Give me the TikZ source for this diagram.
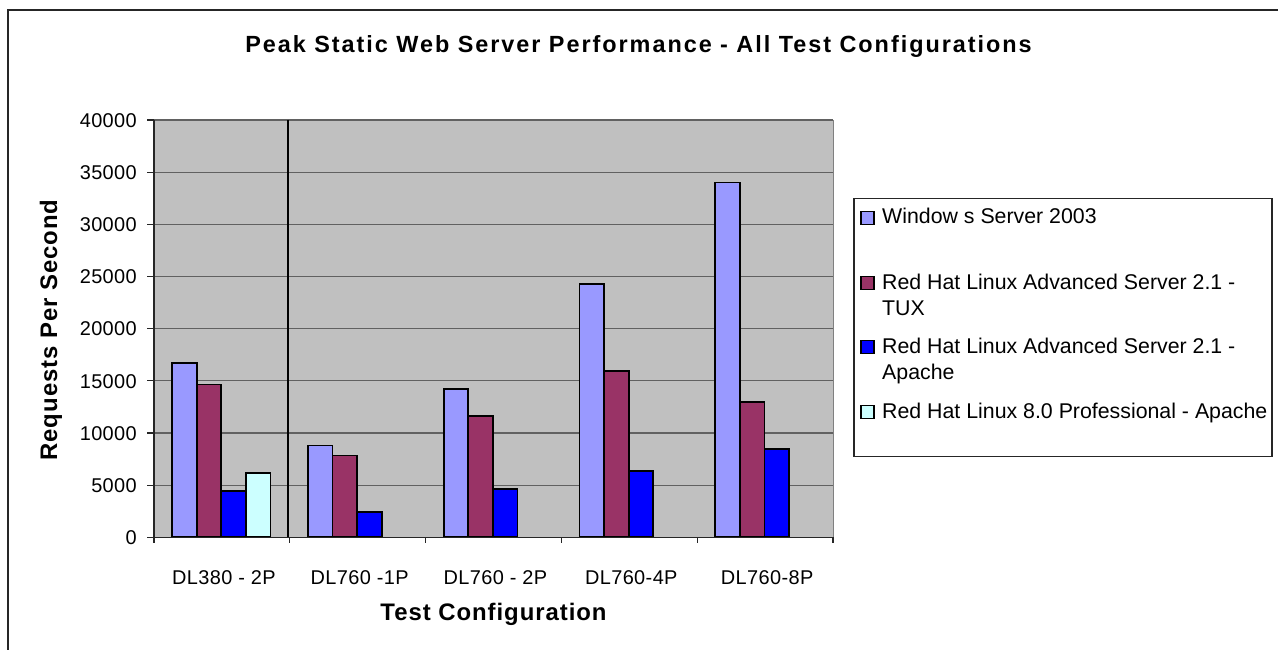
\documentclass[tikz,border=0pt]{standalone}
\usepackage{fontspec}
\setmainfont{Liberation Sans}
\newfontfamily\tickfont{Liberation Sans}[LetterSpace=2]
\newfontfamily\titlefont{Liberation Sans}[LetterSpace=8.4]
\newfontfamily\axisfont{Liberation Sans}[LetterSpace=4]
\definecolor{winblue}{HTML}{9999FF}
\definecolor{tuxred}{HTML}{993366}
\definecolor{apblue}{HTML}{0000FF}
\definecolor{rhcyan}{HTML}{CCFFFF}
\definecolor{plotgray}{HTML}{C0C0C0}

\begin{document}
\begin{tikzpicture}[x=1bp,y=-1bp]
\tikzset{Bar/.style = {draw=black, line width=1.8bp},
  Grid/.style = {draw=black!62, line width=1.2bp},
  TickLabel/.style = {font=\tickfont\fontsize{20}{20}\selectfont, inner sep=0pt},
  AxisTitle/.style = {font=\axisfont\bfseries\fontsize{24}{24}\selectfont, inner sep=0pt},
  LegendText/.style = {font=\fontsize{21.4}{26.5}\selectfont, inner sep=0pt, align=left}}
\useasboundingbox (0,0) rectangle (1278,650);
\draw[line width=2bp, black!85] (8,660) -- (8,10) -- (1290,10);

\node[font=\titlefont\bfseries\fontsize{23.5}{23.5}\selectfont, inner sep=0pt, anchor=base] (title) at (638.5,52.5)
  {Peak Static Web Server Performance - All Test Configurations};

\fill[plotgray] (154,120) rectangle (833,537.3);
\foreach \v in {1,...,8} \draw[Grid] (154,{537.3-\v*52.1625}) -- (833,{537.3-\v*52.1625});
\draw[black!50, line width=1bp] (833,120) -- (833,537.3);
\draw[line width=2bp] (287.5,120) -- (287.5,537.3);

\foreach \s/\col/\vals in {0/winblue/{167,88,142.5,242.5,340}, 1/tuxred/{146.5,78.5,116,159.5,129.5}, 2/apblue/{44.5,24,46.5,63.5,84.5}}
  \foreach \v [count=\c from 0] in \vals
    \draw[Bar, fill=\col] ({172+\c*135.8+\s*24.6},537.3) rectangle ++(24.6,{-\v*1.04325});
\draw[Bar, fill=rhcyan] (245.8,537.3) rectangle ++(24.6,{-61.5*1.04325});

\draw[black!85, line width=1.2bp] (154,120) -- (154,537.3) -- (833,537.3);
\foreach \v/\lab in {0/0,1/5000,2/10000,3/15000,4/20000,5/25000,6/30000,7/35000,8/40000} {
  \draw[black!85, line width=1.2bp] (147,{537.3-\v*52.1625}) -- (154,{537.3-\v*52.1625});
  \node[TickLabel, anchor=base east] (yl\v) at (137,{537.3-\v*52.1625+7.2}) {\lab};
}
\foreach \i in {0,...,5} \draw[black!85, line width=1.2bp] ({154+\i*135.8},537.3) -- ++(0,6);
\foreach \name [count=\i from 0] in {DL380 - 2P, DL760 -1P, DL760 - 2P, DL760-4P, DL760-8P}
  \node[TickLabel, anchor=base] (c\i) at ({156+(\i+0.5)*135.8},584.2) {\name};

\node[AxisTitle, anchor=base] (xtitle) at (493.5,620.5) {Test Configuration};
\node[AxisTitle, rotate=90] (ytitle) at (51,330) {Requests Per Second};

\draw[black!85, fill=white, line width=1.2bp] (854,198.7) rectangle (1272,456.7);
\foreach \yy/\col in {218/winblue, 282.7/tuxred, 347/apblue, 411.7/rhcyan}
  \draw[black, fill=\col, line width=1.3bp] (861,{\yy-6.5}) rectangle ++(13,13);
\node[LegendText, anchor=base west] (l1) at (882,224) {Window s Server 2003};
\node[LegendText, anchor=north west] (l2) at (882,273.5) {Red Hat Linux Advanced Server 2.1 -\\TUX};
\node[LegendText, anchor=north west] (l3) at (882,337.8) {Red Hat Linux Advanced Server 2.1 -\\Apache};
\node[LegendText, anchor=base west] (l4) at (882,418) {Red Hat Linux 8.0 Professional - Apache};
\end{tikzpicture}
\end{document}
